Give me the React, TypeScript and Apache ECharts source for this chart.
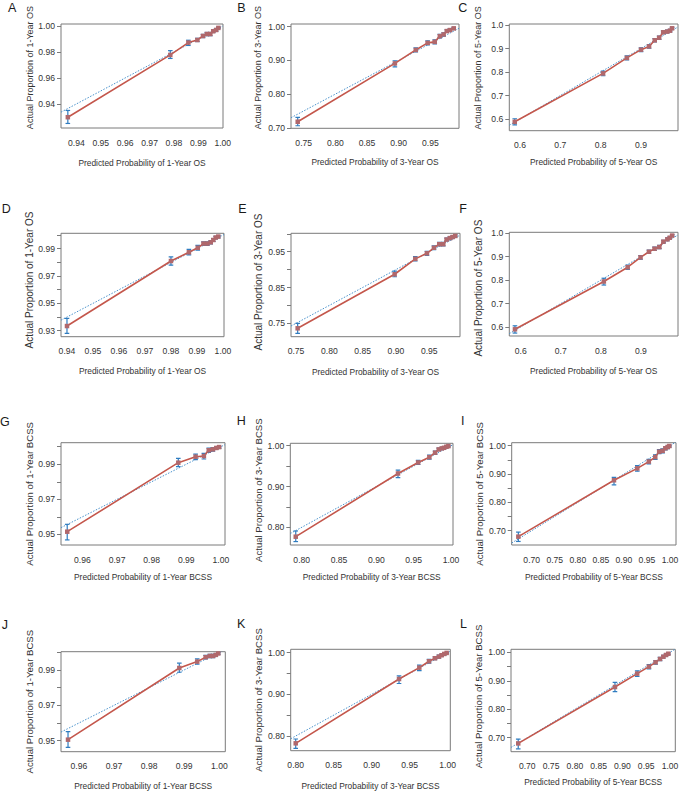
import React, { useEffect, useRef } from "react";
import * as echarts from "echarts";

// ---------------- data ----------------
const outcomes = [
  "1-Year OS", "3-Year OS", "5-Year OS",
  "1-Year OS", "3-Year OS", "5-Year OS",
  "1-Year BCSS", "3-Year BCSS", "5-Year BCSS",
  "1-Year BCSS", "3-Year BCSS", "5-Year BCSS",
];
const letters = ["A", "B", "C", "D", "E", "F", "G", "H", "I", "J", "K", "L"];

// A
const predA = [0.9365, 0.9785, 0.9859, 0.9896, 0.9919, 0.9935, 0.9949, 0.9961, 0.9973, 0.9982];
const obsA = [0.9298, 0.9777, 0.9872, 0.9892, 0.9923, 0.9938, 0.9938, 0.9959, 0.9969, 0.9985];
const loA = [0.925, 0.975, 0.985, 0.988, 0.991, 0.9925, 0.9925, 0.995, 0.996, 0.998];
const hiA = [0.935, 0.981, 0.989, 0.9905, 0.9935, 0.995, 0.995, 0.997, 0.998, 0.999];
const xLabA = [0.94, 0.95, 0.96, 0.97, 0.98, 0.99, 1.0];
const yTickA = [0.94, 0.96, 0.98, 1.0];
const yLabA = [0.94, 0.96, 0.98, 1.0];
// B
const predB = [0.7405, 0.894, 0.927, 0.9457, 0.957, 0.965, 0.971, 0.976, 0.981, 0.987];
const obsB = [0.718, 0.891, 0.931, 0.952, 0.955, 0.972, 0.977, 0.987, 0.99, 0.995];
const loB = [0.706, 0.881, 0.925, 0.946, 0.949, 0.967, 0.972, 0.983, 0.986, 0.992];
const hiB = [0.731, 0.899, 0.937, 0.958, 0.961, 0.977, 0.982, 0.991, 0.994, 0.998];
const xLabB = [0.75, 0.8, 0.85, 0.9, 0.95];
const yTickB = [0.7, 0.8, 0.9, 1.0];
const yLabB = [0.7, 0.8, 0.9, 1.0];
// C
const predC = [0.587, 0.806, 0.865, 0.9, 0.92, 0.934, 0.945, 0.955, 0.965, 0.972, 0.977];
const obsC = [0.588, 0.794, 0.86, 0.895, 0.909, 0.935, 0.946, 0.969, 0.972, 0.976, 0.986];
const loC = [0.575, 0.784, 0.851, 0.887, 0.901, 0.928, 0.939, 0.963, 0.966, 0.971, 0.982];
const hiC = [0.601, 0.804, 0.869, 0.903, 0.917, 0.942, 0.953, 0.975, 0.978, 0.981, 0.99];
const xLabC = [0.6, 0.7, 0.8, 0.9];
const yTickC = [0.6, 0.7, 0.8, 0.9, 1.0];
const yLabC = [0.6, 0.7, 0.8, 0.9, 1.0];
// D
const predD = [0.94, 0.98, 0.9869, 0.9903, 0.9925, 0.994, 0.9953, 0.9963, 0.9972, 0.9982];
const obsD = [0.9334, 0.981, 0.9874, 0.9907, 0.9938, 0.9938, 0.9947, 0.9964, 0.9982, 0.9989];
const loD = [0.928, 0.978, 0.9855, 0.989, 0.9925, 0.9925, 0.9935, 0.9953, 0.9972, 0.998];
const hiD = [0.939, 0.984, 0.9895, 0.9925, 0.995, 0.995, 0.996, 0.9975, 0.999, 0.9996];
const xLabD = [0.94, 0.95, 0.96, 0.97, 0.98, 0.99, 1.0];
const yTickD = [0.93, 0.94, 0.95, 0.96, 0.97, 0.98, 0.99, 1.0];
const yLabD = [0.93, 0.95, 0.97, 0.99];
// E
const predE = [0.7525, 0.898, 0.929, 0.9465, 0.957, 0.965, 0.971, 0.976, 0.981, 0.985, 0.989];
const obsE = [0.736, 0.887, 0.93, 0.9455, 0.961, 0.971, 0.971, 0.984, 0.988, 0.991, 0.994];
const loE = [0.722, 0.88, 0.924, 0.94, 0.956, 0.966, 0.966, 0.98, 0.984, 0.988, 0.991];
const hiE = [0.75, 0.896, 0.936, 0.951, 0.966, 0.976, 0.976, 0.988, 0.992, 0.994, 0.997];
const xLabE = [0.75, 0.8, 0.85, 0.9, 0.95];
const yTickE = [0.75, 0.8, 0.85, 0.9, 0.95, 1.0];
const yLabE = [0.75, 0.85, 0.95];
// F
const predF = [0.5857, 0.8075, 0.867, 0.899, 0.92, 0.934, 0.946, 0.956, 0.966, 0.972, 0.978];
const obsF = [0.59, 0.794, 0.855, 0.897, 0.921, 0.934, 0.941, 0.964, 0.974, 0.981, 0.99];
const loF = [0.574, 0.779, 0.846, 0.889, 0.914, 0.927, 0.934, 0.958, 0.968, 0.976, 0.986];
const hiF = [0.605, 0.808, 0.864, 0.905, 0.928, 0.941, 0.948, 0.97, 0.98, 0.986, 0.994];
const xLabF = [0.6, 0.7, 0.8, 0.9];
const yTickF = [0.6, 0.7, 0.8, 0.9, 1.0];
const yLabF = [0.6, 0.7, 0.8, 0.9, 1.0];
// G
const predG = [0.9556, 0.9877, 0.9927, 0.9951, 0.9965, 0.9977, 0.9987, 0.9995];
const obsG = [0.9515, 0.9909, 0.9943, 0.9947, 0.998, 0.9985, 0.9993, 0.9998];
const loG = [0.9468, 0.9886, 0.9926, 0.993, 0.9968, 0.9975, 0.9986, 0.9991];
const hiG = [0.9557, 0.9933, 0.9958, 0.9962, 0.9992, 0.9995, 1.0, 1.0];
const xLabG = [0.96, 0.97, 0.98, 0.99, 1.0];
const yTickG = [0.95, 0.96, 0.97, 0.98, 0.99, 1.0];
const yLabG = [0.95, 0.97, 0.99];
// H
const predH = [0.792, 0.929, 0.956, 0.971, 0.9787, 0.9836, 0.9877, 0.9907, 0.9938, 0.9965];
const obsH = [0.777, 0.932, 0.959, 0.972, 0.983, 0.991, 0.9935, 0.995, 0.9975, 0.999];
const loH = [0.765, 0.922, 0.954, 0.967, 0.979, 0.988, 0.9905, 0.992, 0.995, 0.997];
const hiH = [0.791, 0.94, 0.964, 0.977, 0.987, 0.994, 0.996, 0.998, 0.999, 1.0];
const xLabH = [0.8, 0.85, 0.9, 0.95, 1.0];
const yTickH = [0.8, 0.85, 0.9, 0.95, 1.0];
const yLabH = [0.8, 0.9, 1.0];
// I
const predI = [0.671, 0.8785, 0.929, 0.954, 0.968, 0.9765, 0.984, 0.99, 0.995, 0.9985];
const obsI = [0.679, 0.878, 0.92, 0.944, 0.96, 0.979, 0.982, 0.991, 0.9955, 0.999];
const loI = [0.662, 0.862, 0.91, 0.936, 0.952, 0.972, 0.975, 0.985, 0.99, 0.995];
const hiI = [0.695, 0.888, 0.93, 0.952, 0.968, 0.986, 0.989, 0.996, 0.999, 1.0];
const xLabI = [0.7, 0.75, 0.8, 0.85, 0.9, 0.95, 1.0];
const yTickI = [0.7, 0.75, 0.8, 0.85, 0.9, 0.95, 1.0];
const yLabI = [0.7, 0.8, 0.9, 1.0];
// J
const predJ = [0.9569, 0.9886, 0.9937, 0.9961, 0.9973, 0.9982, 0.999, 0.9997];
const obsJ = [0.9506, 0.9911, 0.9947, 0.9972, 0.9979, 0.9979, 0.9985, 0.9993];
const loJ = [0.9462, 0.9887, 0.9932, 0.9962, 0.997, 0.997, 0.9978, 0.9988];
const hiJ = [0.9551, 0.9938, 0.9962, 0.9982, 0.9988, 0.9988, 0.9992, 0.9998];
const xLabJ = [0.96, 0.97, 0.98, 0.99, 1.0];
const yTickJ = [0.95, 0.96, 0.97, 0.98, 0.99, 1.0];
const yLabJ = [0.95, 0.97, 0.99];
// K
const predK = [0.8, 0.936, 0.9627, 0.9755, 0.9833, 0.9885, 0.992, 0.9956, 0.9987];
const obsK = [0.7824, 0.9367, 0.964, 0.9793, 0.9865, 0.9904, 0.9937, 0.9969, 0.9993];
const loK = [0.7704, 0.926, 0.957, 0.975, 0.983, 0.987, 0.991, 0.9945, 0.998];
const hiK = [0.7928, 0.944, 0.97, 0.984, 0.99, 0.994, 0.996, 0.999, 1.0];
const xLabK = [0.8, 0.85, 0.9, 0.95, 1.0];
const yTickK = [0.8, 0.85, 0.9, 0.95, 1.0];
const yLabK = [0.8, 0.9, 1.0];
// L
const predL = [0.681, 0.8843, 0.931, 0.9557, 0.9697, 0.979, 0.986, 0.9916, 0.9965];
const obsL = [0.6799, 0.878, 0.925, 0.9495, 0.9648, 0.9765, 0.9845, 0.9905, 0.995];
const loL = [0.661, 0.862, 0.915, 0.942, 0.958, 0.971, 0.98, 0.987, 0.992];
const hiL = [0.695, 0.894, 0.935, 0.957, 0.971, 0.982, 0.989, 0.994, 0.998];
const xLabL = [0.7, 0.75, 0.8, 0.85, 0.9, 0.95, 1.0];
const yTickL = [0.7, 0.75, 0.8, 0.85, 0.9, 0.95, 1.0];
const yLabL = [0.7, 0.8, 0.9, 1.0];

const panelData = [
  { pred: predA, obs: obsA, lo: loA, hi: hiA, xLab: xLabA, yTick: yTickA, yLab: yLabA },
  { pred: predB, obs: obsB, lo: loB, hi: hiB, xLab: xLabB, yTick: yTickB, yLab: yLabB },
  { pred: predC, obs: obsC, lo: loC, hi: hiC, xLab: xLabC, yTick: yTickC, yLab: yLabC },
  { pred: predD, obs: obsD, lo: loD, hi: hiD, xLab: xLabD, yTick: yTickD, yLab: yLabD },
  { pred: predE, obs: obsE, lo: loE, hi: hiE, xLab: xLabE, yTick: yTickE, yLab: yLabE },
  { pred: predF, obs: obsF, lo: loF, hi: hiF, xLab: xLabF, yTick: yTickF, yLab: yLabF },
  { pred: predG, obs: obsG, lo: loG, hi: hiG, xLab: xLabG, yTick: yTickG, yLab: yLabG },
  { pred: predH, obs: obsH, lo: loH, hi: hiH, xLab: xLabH, yTick: yTickH, yLab: yLabH },
  { pred: predI, obs: obsI, lo: loI, hi: hiI, xLab: xLabI, yTick: yTickI, yLab: yLabI },
  { pred: predJ, obs: obsJ, lo: loJ, hi: hiJ, xLab: xLabJ, yTick: yTickJ, yLab: yLabJ },
  { pred: predK, obs: obsK, lo: loK, hi: hiK, xLab: xLabK, yTick: yTickK, yLab: yLabK },
  { pred: predL, obs: obsL, lo: loL, hi: hiL, xLab: xLabL, yTick: yTickL, yLab: yLabL },
];

// ---------------- layout (page pixels) & axis ranges ----------------
type Lay = {
  l: number; t: number; r: number; b: number;
  x0: number; x1: number; y0: number; y1: number;
  xd: number; yd: number;
  ytx: number; yfs: number; ysh: number; xty: number;
  lx: number; ly: number;
};
const layout: Lay[] = [
  { l: 61, t: 24, r: 223, b: 128, x0: 0.9337, x1: 1.0001, y0: 0.9215, y1: 1.0015, xd: 2, yd: 2, ytx: 30, yfs: 9, ysh: 8.5, xty: 164, lx: 8, ly: 1.5 },
  { l: 291, t: 24, r: 459, b: 128.3, x0: 0.7299, x1: 0.9953, y0: 0.6985, y1: 1.008, xd: 2, yd: 2, ytx: 258.3, yfs: 9, ysh: 8.5, xty: 163.5, lx: 237.3, ly: 1.5 },
  { l: 509.3, t: 24, r: 678, b: 130.7, x0: 0.5735, x1: 0.9917, y0: 0.5502, y1: 1.0043, xd: 1, yd: 1, ytx: 478, yfs: 9, ysh: 9.5, xty: 163.3, lx: 458.3, ly: 1.5 },
  { l: 61, t: 233.3, r: 224, b: 336.7, x0: 0.9377, x1: 1.0004, y0: 0.9256, y1: 1.0013, xd: 2, yd: 2, ytx: 30, yfs: 10, ysh: 5, xty: 372, lx: 1.7, ly: 202.5 },
  { l: 291, t: 233.3, r: 460, b: 336.7, x0: 0.7425, x1: 0.9961, y0: 0.7126, y1: 1.0014, xd: 2, yd: 2, ytx: 258.3, yfs: 10, ysh: 3, xty: 373, lx: 238.3, ly: 202.5 },
  { l: 509.3, t: 232.3, r: 678, b: 336, x0: 0.5716, x1: 0.9925, y0: 0.5615, y1: 1.004, xd: 1, yd: 1, ytx: 478.3, yfs: 10, ysh: -4, xty: 371.7, lx: 459.3, ly: 202.5 },
  { l: 61, t: 442.7, r: 225, b: 545, x0: 0.9538, x1: 1.0012, y0: 0.9439, y1: 1.0023, xd: 2, yd: 2, ytx: 30, yfs: 9.6, ysh: 0, xty: 578, lx: 0, ly: 415.2 },
  { l: 290.3, t: 443.3, r: 453, b: 545, x0: 0.7847, x1: 1.0027, y0: 0.7566, y1: 1.006, xd: 2, yd: 2, ytx: 258.3, yfs: 9.6, ysh: 4, xty: 578.3, lx: 236.7, ly: 414.2 },
  { l: 511.7, t: 442.7, r: 676, b: 545, x0: 0.6566, x1: 1.013, y0: 0.6495, y1: 1.0106, xd: 2, yd: 2, ytx: 480, yfs: 9.6, ysh: 0, xty: 577.7, lx: 461, ly: 414.2 },
  { l: 61, t: 651.7, r: 225.3, b: 751.7, x0: 0.9549, x1: 1.0017, y0: 0.9438, y1: 1.0003, xd: 2, yd: 2, ytx: 30, yfs: 9.6, ysh: 0, xty: 787, lx: 1.7, ly: 618.5 },
  { l: 290.7, t: 649.3, r: 450.3, b: 750.7, x0: 0.7934, x1: 1.0035, y0: 0.7647, y1: 1.008, xd: 2, yd: 2, ytx: 258.3, yfs: 9.6, ysh: 0, xty: 787.3, lx: 237, ly: 617.5 },
  { l: 511, t: 649.3, r: 675.3, b: 751.7, x0: 0.6658, x1: 1.0111, y0: 0.6508, y1: 1.0105, xd: 2, yd: 2, ytx: 478.3, yfs: 9.6, ysh: 4, xty: 783.3, lx: 460, ly: 617.5 },
];

const FONT = "Liberation Sans, Arial, Helvetica, sans-serif";
const TEXT = "#333333";
const BOX = "#7a7a7a";
const RED = "#c4574c";
const BLUE = "#2f7cc0";
const DOT = "#4a92cc";
const PT = "#b0686c";
const TICK_FS = 8.6;
const XT_FS = 8.4;

function buildOption() {
  const grid: any[] = [];
  const xAxis: any[] = [];
  const yAxis: any[] = [];
  const series: any[] = [];
  const graphic: any[] = [];

  layout.forEach((L, i) => {
    const P = panelData[i];
    grid.push({
      left: L.l, top: L.t, width: L.r - L.l, height: L.b - L.t,
      show: true, borderColor: BOX, borderWidth: 1, backgroundColor: "transparent",
      containLabel: false, outerBoundsMode: "none",
    });
    xAxis.push({
      type: "value", gridIndex: i, min: L.x0, max: L.x1,
      axisLine: { show: false }, axisTick: { show: false }, splitLine: { show: false },
      axisLabel: {
        customValues: P.xLab, margin: 10, fontSize: TICK_FS, color: TEXT, fontFamily: FONT,
        formatter: (v: number) => v.toFixed(L.xd),
      },
      name: "Predicted Probability of " + outcomes[i],
      nameLocation: "middle",
      nameGap: L.xty - L.b - XT_FS / 2 - 1,
      nameTextStyle: { fontSize: XT_FS, color: TEXT, fontFamily: FONT },
    });
    const pad = L.ysh >= 0 ? [0, 0, 0, 2 * L.ysh] : [0, -2 * L.ysh, 0, 0];
    yAxis.push({
      type: "value", gridIndex: i, min: L.y0, max: L.y1,
      axisLine: { show: false }, splitLine: { show: false },
      axisTick: { show: true, customValues: P.yTick, length: 4, inside: false, lineStyle: { color: BOX, width: 1 } },
      axisLabel: {
        customValues: P.yLab, margin: 6, fontSize: TICK_FS, color: TEXT, fontFamily: FONT,
        formatter: (v: number) => v.toFixed(L.yd),
      },
      name: "Actual Proportion of " + outcomes[i],
      nameLocation: "middle",
      nameGap: L.l - L.ytx - L.yfs / 2,
      nameTextStyle: { fontSize: L.yfs, color: TEXT, fontFamily: FONT, padding: pad },
    });

    // ideal (45 degree) reference line across the plotting region
    series.push({
      type: "line", xAxisIndex: i, yAxisIndex: i, clip: true, silent: true,
      data: [[L.x0, L.x0], [L.x1, L.x1]],
      symbol: "none", lineStyle: { color: DOT, width: 1, type: [1.5, 1.5] }, z: 1,
    });
    // error bars
    series.push({
      type: "custom", xAxisIndex: i, yAxisIndex: i, clip: true, z: 2,
      data: P.pred.map((x, k) => [x, P.lo[k], P.hi[k]]),
      encode: { x: 0, y: [1, 2] },
      renderItem: (params: any, api: any) => {
        const x = api.value(0);
        const a = api.coord([x, api.value(1)]);
        const b = api.coord([x, api.value(2)]);
        const c = 2.3;
        const style = { stroke: BLUE, lineWidth: 1.2 };
        return {
          type: "group",
          children: [
            { type: "line", shape: { x1: a[0], y1: a[1], x2: b[0], y2: b[1] }, style },
            { type: "line", shape: { x1: a[0] - c, y1: a[1], x2: a[0] + c, y2: a[1] }, style },
            { type: "line", shape: { x1: b[0] - c, y1: b[1], x2: b[0] + c, y2: b[1] }, style },
          ],
        };
      },
    });
    // calibration curve
    series.push({
      type: "line", xAxisIndex: i, yAxisIndex: i, z: 3,
      data: P.pred.map((x, k) => [x, P.obs[k]]),
      symbol: "rect", symbolSize: 4.5, showSymbol: true,
      itemStyle: { color: PT },
      lineStyle: { color: RED, width: 1.6 },
    });

    graphic.push({
      type: "text", left: L.lx, top: L.ly, z: 10,
      style: { text: letters[i], fontSize: 12.5, fill: "#1a1a1a", fontFamily: FONT },
    });
  });

  return {
    animation: false,
    backgroundColor: "#ffffff",
    grid, xAxis, yAxis, series, graphic,
  };
}

export default function App() {
  const ref = useRef<HTMLDivElement>(null);
  useEffect(() => {
    if (!ref.current) return;
    const chart = echarts.init(ref.current, null, { renderer: "svg" });
    chart.setOption(buildOption());
    return () => chart.dispose();
  }, []);
  return (
    <div
      ref={ref}
      style={{ position: "fixed", left: 0, top: 0, width: 682, height: 794, background: "#fff" }}
    />
  );
}
